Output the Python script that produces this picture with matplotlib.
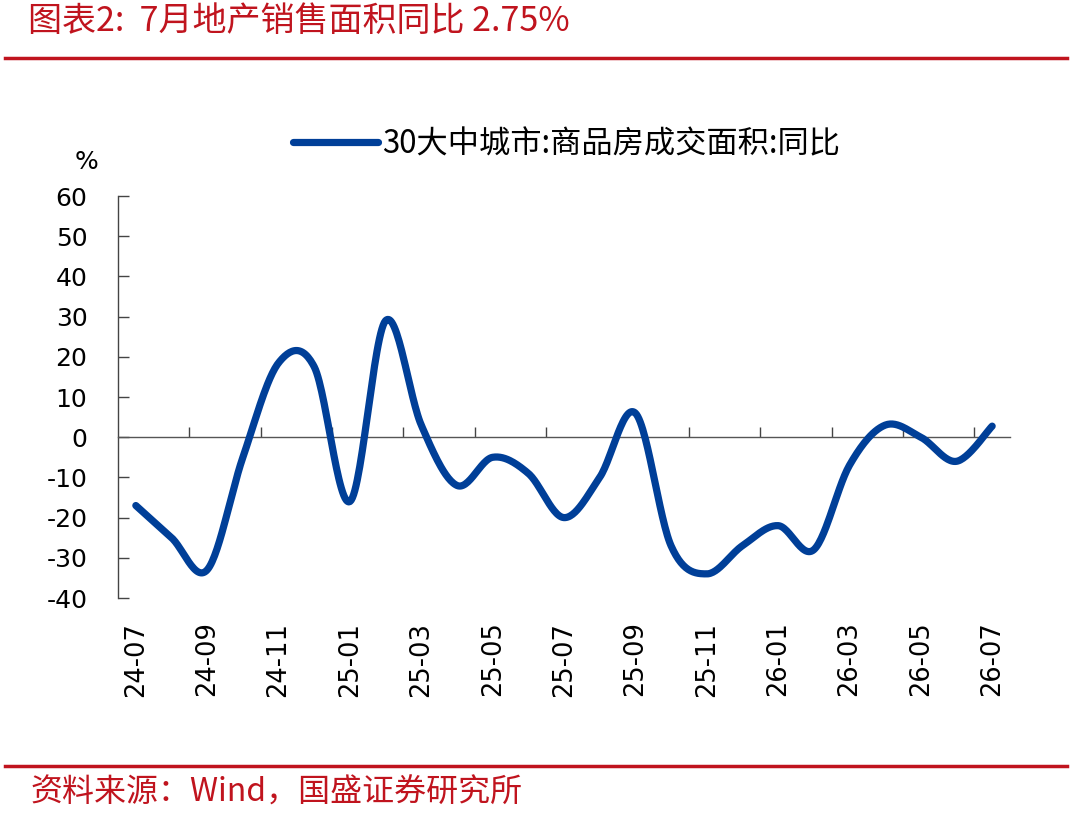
import numpy as np
import matplotlib as mpl
mpl.use('Agg')
import matplotlib.pyplot as plt
from matplotlib.lines import Line2D

plt.rcParams['axes.unicode_minus'] = False
plt.rcParams['font.family'] = ['DejaVu Sans']

# monthly data, 24-07 .. 26-07
months = ['24-07','24-08','24-09','24-10','24-11','24-12',
          '25-01','25-02','25-03','25-04','25-05','25-06',
          '25-07','25-08','25-09','25-10','25-11','25-12',
          '26-01','26-02','26-03','26-04','26-05','26-06','26-07']
yoy = [-17, -25, -33, -5, 18.5, 17.5,
       -16, 29, 3, -12, -5, -9,
       -20, -10, 6, -27, -34, -27,
       -22, -28, -7, 3, 0, -6, 2.75]
series_name = '30大中城市:商品房成交面积:同比'
yticks = [-40, -30, -20, -10, 0, 10, 20, 30, 40, 50, 60]

red = '#C0141E'
blue = '#003F98'
cjk = ['Noto Sans CJK SC', 'DejaVu Sans']


def smooth(x, y, n=30):
    # excel-style smoothed line (cardinal bezier through the points)
    x = np.asarray(x, float)
    y = np.asarray(y, float)
    px = np.concatenate(([x[0]], x, [x[-1]]))
    py = np.concatenate(([y[0]], y, [y[-1]]))
    xs, ys = [], []
    t = np.linspace(0, 1, n)
    for i in range(1, len(px) - 2):
        p0 = np.array([px[i], py[i]])
        p3 = np.array([px[i+1], py[i+1]])
        p1 = p0 + (np.array([px[i+1], py[i+1]]) - np.array([px[i-1], py[i-1]])) / 6
        p2 = p3 - (np.array([px[i+2], py[i+2]]) - np.array([px[i], py[i]])) / 6
        b = ((1-t)**3)[:, None]*p0 + (3*(1-t)**2*t)[:, None]*p1 + \
            (3*(1-t)*t**2)[:, None]*p2 + (t**3)[:, None]*p3
        xs.append(b[:, 0])
        ys.append(b[:, 1])
    return np.concatenate(xs), np.concatenate(ys)


fig = plt.figure(figsize=(10.8, 8.13), dpi=100)
ax = fig.add_axes([118/1080, 1-598/813, 892/1080, 402/813])

idx = np.arange(len(months))
sx, sy = smooth(idx, yoy)
ax.plot(sx, sy, color=blue, linewidth=5.2, solid_capstyle='round',
        label=series_name, zorder=3)

ax.set_xlim(-0.5, len(months) - 0.5)
ax.set_ylim(-40, 60)

for s in ['top', 'right']:
    ax.spines[s].set_visible(False)
ax.spines['left'].set_color('#444444')
ax.spines['left'].set_linewidth(1.0)
ax.spines['bottom'].set_position(('data', 0))
ax.spines['bottom'].set_color('#555555')
ax.spines['bottom'].set_linewidth(1.0)

ax.set_yticks(yticks)
ax.tick_params(axis='y', direction='in', length=8, width=1, colors='#444444',
               labelcolor='black', labelsize=18, pad=22)
ax.set_xticks(np.arange(1.5, len(months) - 1, 2))
ax.tick_params(axis='x', direction='in', length=7, width=1, colors='#444444',
               labelbottom=False)

sec = ax.secondary_xaxis('bottom')
sec.set_xticks(idx[::2])
sec.set_xticklabels(months[::2], rotation=90)
sec.tick_params(length=0, labelsize=18.5, pad=17)
sec.spines['bottom'].set_visible(False)

fig.text(87/1080, 1-162/813, '%', fontsize=18, ha='center', va='center')

ax.legend(loc='center', bbox_to_anchor=(567/1080, 1-144/813),
          bbox_transform=fig.transFigure, frameon=False,
          prop={'family': cjk, 'size': 22.5}, handlelength=2.7, handletextpad=0.15)

# header and footer
fig.text(28/1080, 1-21/813, '图表2:  7月地产销售面积同比 2.75%', color=red,
         fontsize=24.5, family=cjk, ha='left', va='center')
fig.add_artist(Line2D([5/1080, 1067/1080], [1-58.5/813, 1-58.5/813],
                      color=red, linewidth=2.5, transform=fig.transFigure))
fig.add_artist(Line2D([5/1080, 1067/1080], [1-766/813, 1-766/813],
                      color=red, linewidth=2.5, transform=fig.transFigure))
fig.text(30/1080, 1-793/813, '资料来源：Wind，国盛证券研究所', color=red,
         fontsize=23, family=cjk, ha='left', va='center')

fig.savefig('out.png', dpi=100)
plt.close()
